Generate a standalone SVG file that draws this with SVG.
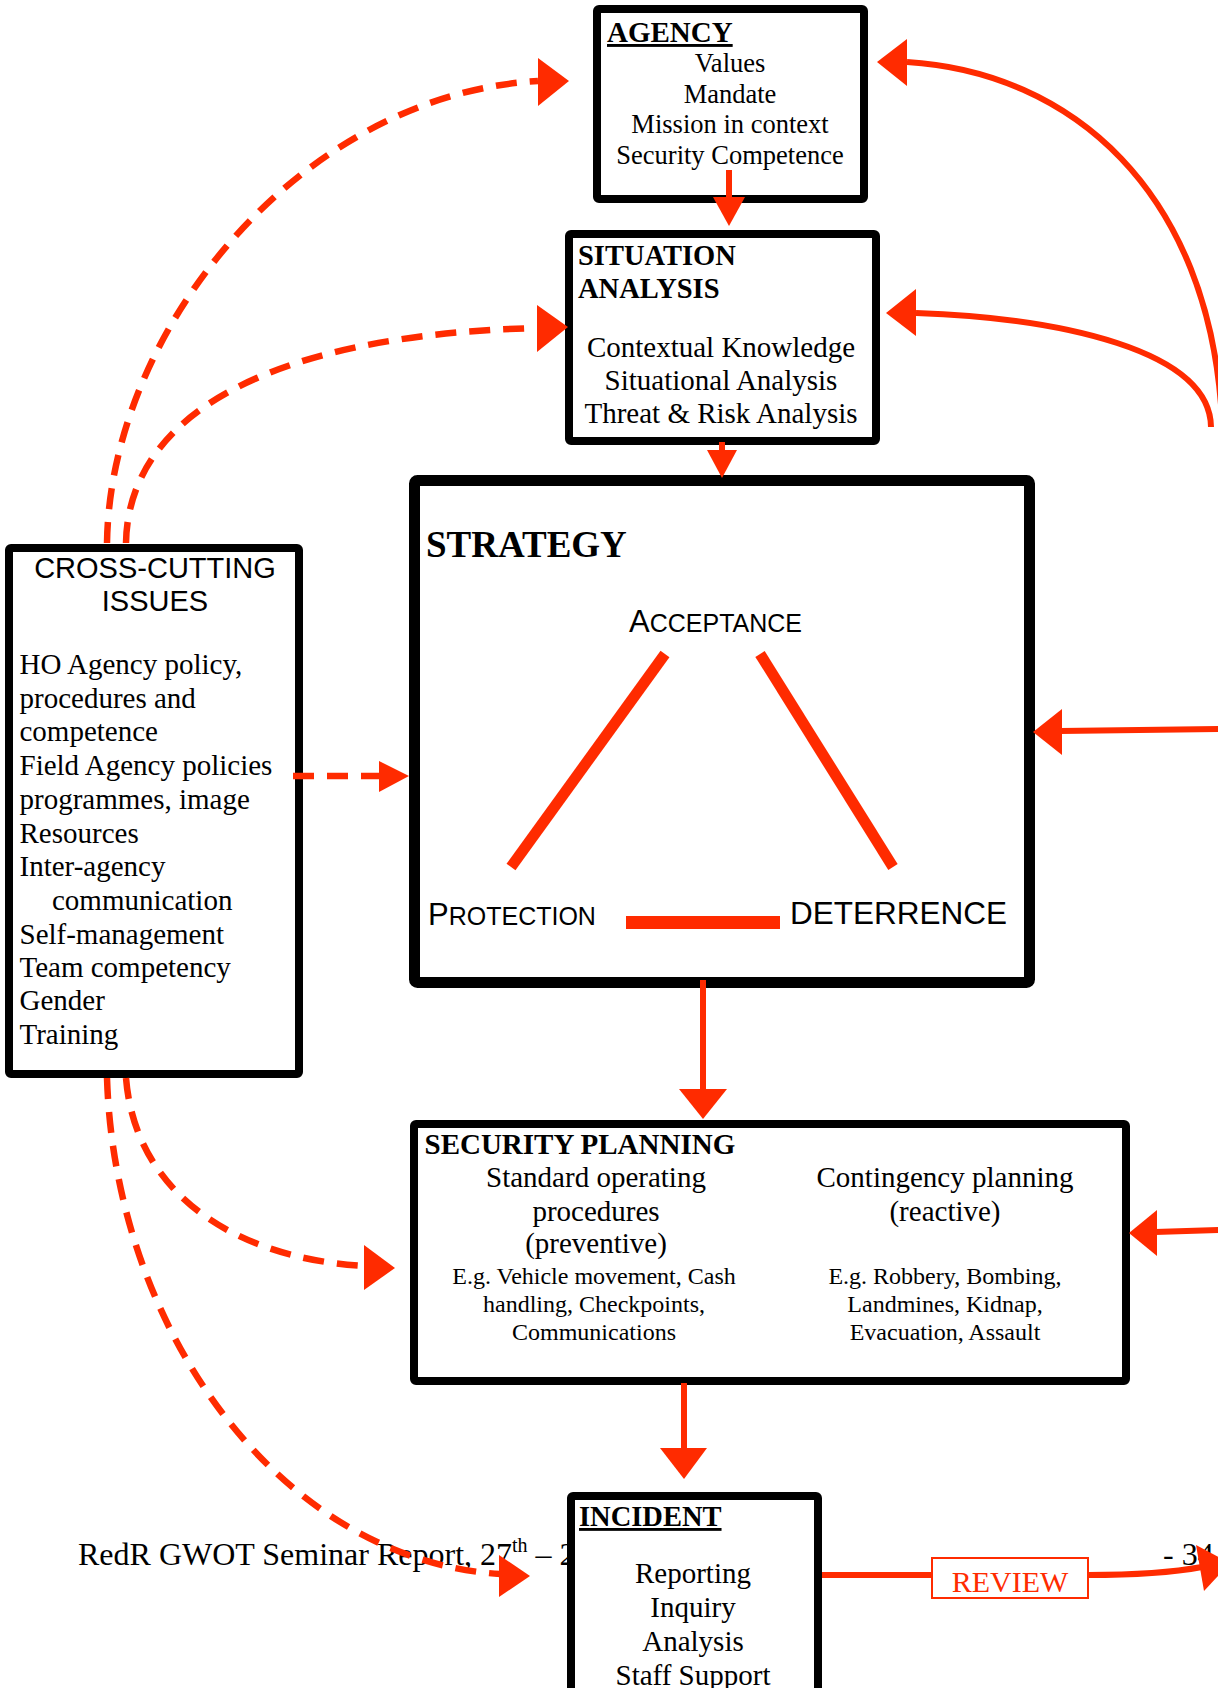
<svg xmlns="http://www.w3.org/2000/svg" width="1218" height="1688" viewBox="0 0 1218 1688">
<defs>
<style>
.box{fill:#fff;stroke:#000;stroke-linejoin:round}
.serif{font-family:"Liberation Serif","Times New Roman",serif;fill:#000}
.sans{font-family:"Liberation Sans",Arial,sans-serif;fill:#000}
.b{font-weight:bold}
.mid{text-anchor:middle}
.u{text-decoration:underline}
.ln{fill:none;stroke:#FF2B00;stroke-width:6}
.dash{fill:none;stroke:#FF2B00;stroke-width:6.5;stroke-dasharray:21 13}
.ah{fill:#FF2B00;stroke:none}
.tri{stroke:#FF2B00;stroke-width:11;fill:none}
</style>
</defs>
<rect width="1218" height="1688" fill="#fff"/>

<g id="footer">
<text class="serif" x="78" y="1565" font-size="32">RedR GWOT Seminar Report, 27<tspan font-size="20" dy="-13">th</tspan><tspan dy="13"> – 2</tspan></text>
<text class="serif" x="1163" y="1565" font-size="32">- 34</text>
</g>

<g id="agency">
<rect class="box" x="597" y="9" width="267" height="190" rx="2" stroke-width="8"/>
<text class="serif b u" x="607" y="42" font-size="29">AGENCY</text>
<g class="serif mid" font-size="26.5">
<text x="730" y="72">Values</text>
<text x="730" y="102.5">Mandate</text>
<text x="730" y="133">Mission in context</text>
<text x="730" y="163.5">Security Competence</text>
</g>
</g>

<g id="situation">
<rect class="box" x="569" y="234" width="307" height="207" rx="2" stroke-width="8"/>
<text class="serif b" x="578" y="265" font-size="28.5">SITUATION</text>
<text class="serif b" x="578" y="298" font-size="28.5">ANALYSIS</text>
<g class="serif mid" font-size="29">
<text x="721" y="357">Contextual Knowledge</text>
<text x="721" y="390">Situational Analysis</text>
<text x="721" y="423">Threat &amp; Risk Analysis</text>
</g>
</g>

<g id="strategy">
<rect class="box" x="414.5" y="480.5" width="615" height="502" rx="3" stroke-width="11"/>
<text class="serif b" x="426" y="557" font-size="37">STRATEGY</text>
<text class="sans" x="629" y="632" font-size="31">A<tspan font-size="25">CCEPTANCE</tspan></text>
<text class="sans" x="428" y="925" font-size="31">P<tspan font-size="25">ROTECTION</tspan></text>
<text class="sans" x="790" y="924" font-size="31.5">DETERRENCE</text>
<line class="tri" x1="511" y1="867" x2="665" y2="654"/>
<line class="tri" x1="760" y1="654" x2="893" y2="867"/>
<rect x="626" y="916" width="154" height="13" fill="#FF2B00"/>
</g>

<g id="crosscutting">
<rect class="box" x="9" y="548" width="290" height="526" rx="2" stroke-width="8"/>
<text class="sans mid" x="155" y="578" font-size="29">CROSS-CUTTING</text>
<text class="sans mid" x="155" y="611" font-size="29">ISSUES</text>
<g class="serif" font-size="29">
<text x="19.5" y="674">HO Agency policy,</text>
<text x="19.5" y="707.5">procedures and</text>
<text x="19.5" y="741">competence</text>
<text x="19.5" y="775">Field Agency policies</text>
<text x="19.5" y="808.5">programmes, image</text>
<text x="19.5" y="842.5">Resources</text>
<text x="19.5" y="876">Inter-agency</text>
<text x="52" y="909.5">communication</text>
<text x="19.5" y="943.5">Self-management</text>
<text x="19.5" y="976.5">Team competency</text>
<text x="19.5" y="1010">Gender</text>
<text x="19.5" y="1044">Training</text>
</g>
</g>

<g id="security">
<rect class="box" x="414" y="1124" width="712" height="257" rx="2" stroke-width="8"/>
<text class="serif b" x="424.5" y="1154" font-size="29">SECURITY PLANNING</text>
<g class="serif mid" font-size="29">
<text x="596" y="1187">Standard operating</text>
<text x="596" y="1221">procedures</text>
<text x="596" y="1253">(preventive)</text>
<text x="945" y="1187">Contingency planning</text>
<text x="945" y="1221">(reactive)</text>
</g>
<g class="serif mid" font-size="24">
<text x="594" y="1284">E.g. Vehicle movement, Cash</text>
<text x="594" y="1312">handling, Checkpoints,</text>
<text x="594" y="1340">Communications</text>
<text x="945" y="1284">E.g. Robbery, Bombing,</text>
<text x="945" y="1312">Landmines, Kidnap,</text>
<text x="945" y="1340">Evacuation, Assault</text>
</g>
</g>

<g id="incident">
<rect class="box" x="571" y="1496" width="247" height="300" rx="2" stroke-width="8"/>
<text class="serif b u" x="579" y="1526" font-size="28.5">INCIDENT</text>
<g class="serif mid" font-size="29">
<text x="693" y="1583">Reporting</text>
<text x="693" y="1617">Inquiry</text>
<text x="693" y="1651">Analysis</text>
<text x="693" y="1685">Staff Support</text>
</g>
</g>

<g id="connectors">
<line class="ln" x1="729" y1="170" x2="729" y2="198"/>
<polygon class="ah" points="713,197 745,197 729,226"/>
<line class="ln" x1="722" y1="442" x2="722" y2="451"/>
<polygon class="ah" points="707,450 737,450 722,478"/>
<line class="ln" x1="703" y1="980" x2="703" y2="1090"/>
<polygon class="ah" points="679,1089 727,1089 703,1119"/>
<line class="ln" x1="684" y1="1383" x2="684" y2="1449"/>
<polygon class="ah" points="660,1448 707,1448 684,1479"/>

<path class="ln" d="M1222,420 C1210,190 1070,72 907,62"/>
<polygon class="ah" points="907,39 907,86 877,62"/>
<path class="ln" d="M1211,427 C1210,350 1060,318 916,313"/>
<polygon class="ah" points="916,289 916,336 886,313"/>
<line class="ln" x1="1220" y1="729" x2="1060" y2="731"/>
<polygon class="ah" points="1062,709 1062,755 1033,732"/>
<line class="ln" x1="1220" y1="1230" x2="1155" y2="1232"/>
<polygon class="ah" points="1157,1210 1157,1256 1129,1233"/>

<path class="dash" d="M107,543 C110,330 300,95 538,81"/>
<polygon class="ah" points="538,58 538,106 569,81"/>
<path class="dash" d="M126,543 C128,420 260,335 537,328"/>
<polygon class="ah" points="537,305 537,352 568,327"/>
<path class="dash" d="M293,776 L380,776"/>
<polygon class="ah" points="379,761 379,792 409,776"/>
<path class="dash" d="M126,1078 C135,1190 230,1258 364,1266"/>
<polygon class="ah" points="364,1245 364,1290 395,1268"/>
<path class="dash" d="M107,1078 C115,1330 280,1560 500,1574"/>
<polygon class="ah" points="499,1555 499,1597 530,1576"/>

<line class="ln" x1="822" y1="1575" x2="932" y2="1575"/>
<path class="ln" d="M1088,1575 C1140,1575 1175,1572 1202,1567"/>
<polygon class="ah" points="1196,1545 1204,1591 1230,1563"/>
</g>

<g id="review">
<rect x="932" y="1558" width="156" height="40" fill="#fff" stroke="#FF2B00" stroke-width="2"/>
<text class="serif mid" x="1010" y="1592" font-size="30" fill="#FF2B00" style="fill:#FF2B00">REVIEW</text>
</g>
</svg>
